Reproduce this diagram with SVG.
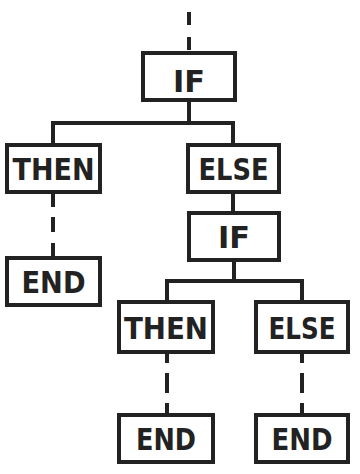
<svg xmlns="http://www.w3.org/2000/svg" width="360" height="474" viewBox="0 0 360 474">
<style>
.box{fill:#fff;stroke:#222;stroke-width:4}
.ln{fill:none;stroke:#222;stroke-width:4}
.t{font-family:"DejaVu Sans Condensed","DejaVu Sans",sans-serif;font-weight:bold;font-size:31px;fill:#222;text-anchor:middle}
</style>
<rect width="360" height="474" fill="#fff"/>
<g id="connectors">
<path class="ln" d="M189 12 V25 M189 37 V50"/>
<path class="ln" d="M189 100 V123 M53 145 V123 H233 V145"/>
<path class="ln" d="M233 192 V213"/>
<path class="ln" d="M53 192 V207 M53 217 V232 M53 243 V258"/>
<path class="ln" d="M234 260 V281 M167 302 V281 H302 V302"/>
<path class="ln" d="M167 352 V363 M167 373 V393 M167 403 V415"/>
<path class="ln" d="M302 352 V363 M302 373 V393 M302 403 V415"/>
</g>
<g id="if1"><rect class="box" x="143" y="53" width="92" height="47"/><text class="t" x="189" y="92" textLength="32" lengthAdjust="spacingAndGlyphs">IF</text></g>
<g id="then1"><rect class="box" x="7" y="145" width="93" height="47"/><text class="t" x="53.5" y="180" textLength="82" lengthAdjust="spacingAndGlyphs">THEN</text></g>
<g id="else1"><rect class="box" x="188" y="145" width="91" height="47"/><text class="t" x="233.5" y="180" textLength="70" lengthAdjust="spacingAndGlyphs">ELSE</text></g>
<g id="end1"><rect class="box" x="7" y="258" width="93" height="47"/><text class="t" x="53.5" y="293" textLength="64" lengthAdjust="spacingAndGlyphs">END</text></g>
<g id="if2"><rect class="box" x="189" y="213" width="90" height="47"/><text class="t" x="234" y="248" textLength="32" lengthAdjust="spacingAndGlyphs">IF</text></g>
<g id="then2"><rect class="box" x="119" y="302" width="94" height="50"/><text class="t" x="166" y="339" textLength="84" lengthAdjust="spacingAndGlyphs">THEN</text></g>
<g id="else2"><rect class="box" x="256" y="302" width="92" height="50"/><text class="t" x="302" y="339" textLength="67" lengthAdjust="spacingAndGlyphs">ELSE</text></g>
<g id="end2"><rect class="box" x="119" y="415" width="94" height="47"/><text class="t" x="166" y="450" textLength="60" lengthAdjust="spacingAndGlyphs">END</text></g>
<g id="end3"><rect class="box" x="256" y="415" width="92" height="47"/><text class="t" x="302" y="450" textLength="61" lengthAdjust="spacingAndGlyphs">END</text></g>
</svg>
